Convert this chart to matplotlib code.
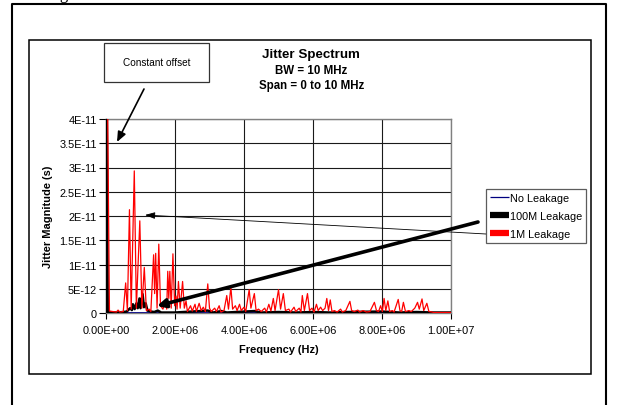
import matplotlib
matplotlib.use("Agg")
import matplotlib.pyplot as plt
from matplotlib.lines import Line2D
from matplotlib.patches import Rectangle

plt.rcParams['font.family'] = ['Liberation Sans', 'DejaVu Sans']

# ---------------- data ----------------
# frequency in MHz, magnitude in ps (1e-12 s)
red_f = [0.0, 0.1, 0.2, 0.3, 0.35, 0.4, 0.5, 0.57, 0.62, 0.68, 0.73, 0.82, 0.88, 0.98, 1.04,
         1.11, 1.17, 1.25, 1.30, 1.38, 1.41, 1.44, 1.48, 1.53, 1.58, 1.65, 1.72, 1.76, 1.79, 1.82,
         1.85, 1.89, 1.94, 1.99, 2.03, 2.06, 2.10, 2.15, 2.22, 2.27, 2.32, 2.36, 2.45, 2.50, 2.58,
         2.62, 2.70, 2.76, 2.82, 2.88, 2.95, 3.00, 3.05, 3.15, 3.20, 3.28, 3.33, 3.42, 3.50, 3.55,
         3.62, 3.67, 3.75, 3.80, 3.87, 3.92, 4.00, 4.05, 4.15, 4.20, 4.30, 4.35, 4.42, 4.50, 4.60,
         4.65, 4.72, 4.78, 4.85, 4.90, 5.00, 5.06, 5.14, 5.20, 5.30, 5.35, 5.45, 5.50, 5.60, 5.65,
         5.69, 5.75, 5.84, 5.90, 5.97, 6.03, 6.10, 6.15, 6.22, 6.28, 6.35, 6.40, 6.45, 6.50, 6.55,
         6.62, 6.70, 6.80, 6.85, 6.95, 7.07, 7.12, 7.20, 7.30, 7.35, 7.45, 7.55, 7.65, 7.78, 7.84,
         7.90, 7.96, 8.01, 8.06, 8.11, 8.17, 8.22, 8.30, 8.35, 8.47, 8.52, 8.57, 8.62, 8.68, 8.78,
         8.85, 8.95, 9.03, 9.08, 9.16, 9.21, 9.30, 9.36, 9.45, 9.50, 10.0]
red_v = [80.0, 0.4, 0.3, 0.2, 0.6, 0.2, 0.3, 6.2, 0.5, 21.3, 0.8, 29.3, 1.0, 19.0, 1.0,
         9.4, 0.5, 0.8, 0.3, 12.0, 4.0, 12.3, 1.0, 14.2, 1.5, 0.8, 2.5, 0.8, 8.6, 3.0,
         8.6, 1.0, 12.2, 1.5, 3.5, 0.8, 6.5, 1.0, 6.5, 1.0, 2.5, 0.3, 1.5, 0.4, 1.8,
         0.3, 2.0, 0.5, 1.2, 0.3, 6.0, 1.0, 0.3, 1.0, 0.3, 1.5, 0.2, 0.5, 3.6, 0.8,
         5.3, 0.8, 1.5, 0.5, 1.8, 0.5, 1.2, 0.3, 4.8, 1.0, 4.0, 0.5, 0.8, 0.3, 1.0,
         0.2, 1.8, 0.4, 3.0, 0.5, 4.8, 0.8, 4.0, 0.5, 0.8, 0.2, 1.2, 0.3, 1.0, 0.2,
         3.6, 0.5, 4.0, 0.5, 1.0, 0.2, 1.8, 0.5, 1.2, 0.5, 1.0, 3.0, 0.5, 2.7, 0.3,
         0.5, 0.2, 0.8, 0.2, 0.5, 2.4, 0.5, 0.3, 0.6, 0.2, 0.5, 0.2, 0.3, 2.2, 0.5,
         0.3, 1.5, 0.3, 3.0, 0.5, 2.5, 0.3, 0.5, 0.2, 2.8, 0.5, 0.3, 2.2, 0.3, 0.5,
         0.3, 1.0, 2.2, 0.8, 2.9, 0.5, 2.0, 0.3, 0.2, 0.1, 0.1]

black_f = [0.0, 0.05, 0.3, 0.5, 0.6, 0.7, 0.75, 0.78, 0.83, 0.88, 0.92, 0.97, 1.0, 1.06, 1.1,
           1.15, 1.2, 1.3, 1.4, 1.5, 1.6, 2.0, 2.5, 2.95, 3.1, 3.35, 3.5, 4.3, 4.5, 5.0,
           5.5, 6.0, 6.5, 7.0, 8.0, 8.5, 9.0, 9.5, 10.0]
black_v = [80.0, 0.2, 0.1, 0.2, 0.3, 1.0, 0.6, 1.8, 0.8, 2.0, 1.0, 3.0, 1.0, 3.9, 1.2,
           2.0, 0.5, 0.3, 0.2, 0.5, 0.1, 0.1, 0.3, 0.5, 0.1, 0.4, 0.1, 0.4, 0.1, 0.2,
           0.1, 0.2, 0.1, 0.2, 0.3, 0.1, 0.2, 0.1, 0.1]

blue_f = [0.0, 0.05, 10.0]
blue_v = [80.0, 0.05, 0.05]

y_ticks = [0, 5e-12, 1e-11, 1.5e-11, 2e-11, 2.5e-11, 3e-11, 3.5e-11, 4e-11]
y_labels = ["0", "5E-12", "1E-11", "1.5E-11", "2E-11", "2.5E-11", "3E-11", "3.5E-11", "4E-11"]
x_ticks = [0, 2e6, 4e6, 6e6, 8e6, 1e7]
x_labels = ["0.00E+00", "2.00E+06", "4.00E+06", "6.00E+06", "8.00E+06", "1.00E+07"]

# ---------------- figure ----------------
W, H = 618, 406
fig = plt.figure(figsize=(W / 100, H / 100), dpi=100)
fig.patch.set_facecolor('white')

def fx(x):
    return x / W

def fy(y):
    return 1 - y / H

ax = fig.add_axes([fx(106), fy(314), fx(451) - fx(106), fy(120) - fy(314)])

ax.plot([f * 1e6 for f in blue_f], [v * 1e-12 for v in blue_v], color='#000080', lw=0.9,
        label='No Leakage', zorder=3)
ax.plot([f * 1e6 for f in black_f], [v * 1e-12 for v in black_v], color='black', lw=1.8,
        label='100M Leakage', zorder=4)
ax.plot([f * 1e6 for f in red_f], [v * 1e-12 for v in red_v], color='#ff0000', lw=0.9,
        label='1M Leakage', zorder=5)

ax.set_xlim(0, 1e7)
ax.set_ylim(0, 4e-11)
ax.set_xticks(x_ticks)
ax.set_xticklabels(x_labels, fontsize=7.9)
ax.set_yticks(y_ticks)
ax.set_yticklabels(y_labels, fontsize=7.9)
ax.tick_params(axis='x', direction='out', length=4, width=0.8, pad=5, colors='black')
ax.tick_params(axis='y', direction='out', length=5, width=0.8, pad=1.5, colors='black')
ax.grid(True, color='#1a1a1a', lw=0.8)
ax.set_axisbelow(True)
for s in ['top', 'right', 'bottom']:
    ax.spines[s].set_color('#808080')
    ax.spines[s].set_linewidth(1.0)
ax.spines['left'].set_color('black')
ax.spines['left'].set_linewidth(1.0)

ax.set_xlabel('Frequency (Hz)', fontsize=7.9, fontweight='bold', labelpad=6)
ax.set_ylabel('Jitter Magnitude (s)', fontsize=7.9, fontweight='bold', va='center')
ax.yaxis.set_label_coords((48 - 106) / 345, 0.5)

# legend
handles = [Line2D([], [], color='#000080', lw=0.9, solid_capstyle='butt'),
           Line2D([], [], color='black', lw=4.5, solid_capstyle='butt'),
           Line2D([], [], color='#ff0000', lw=4.5, solid_capstyle='butt')]
leg = fig.legend(handles, ['No Leakage', '100M Leakage', '1M Leakage'],
                 loc='upper left', bbox_to_anchor=(fx(486), fy(190)),
                 fontsize=7.8, frameon=True, fancybox=False, handlelength=1.75,
                 handletextpad=0.12, borderpad=0.35, labelspacing=0.75, borderaxespad=0)
leg.get_frame().set_edgecolor('#333333')
leg.get_frame().set_linewidth(0.9)

# titles
fig.text(fx(311), fy(55), 'Jitter Spectrum', ha='center', va='center', fontsize=9.6, fontweight='bold')
fig.text(fx(311), fy(71.5), 'BW = 10 MHz', ha='center', va='center', fontsize=8.3, fontweight='bold')
fig.text(fx(311.5), fy(86), 'Span = 0 to 10 MHz', ha='center', va='center', fontsize=8.3, fontweight='bold')

# constant offset box
fig.add_artist(Rectangle((fx(104), fy(83)), fx(209) - fx(104), fy(44) - fy(83),
                         transform=fig.transFigure, fill=False, edgecolor='#333333', lw=0.9))
fig.text(fx(156.5), fy(63), 'Constant offset', ha='center', va='center', fontsize=7.2)

# arrows (figure pixel coordinates)
def arrow(x0, y0, x1, y1, lw, hl, hw):
    ax.annotate('', xy=(x1, H - y1), xycoords='figure pixels',
                xytext=(x0, H - y0), textcoords='figure pixels',
                arrowprops=dict(arrowstyle=f'-|>,head_length={hl},head_width={hw}',
                                color='black', lw=lw, shrinkA=0, shrinkB=0),
                annotation_clip=False, zorder=10)

arrow(144, 90, 117, 143, 1.2, 0.6, 0.25)
arrow(486, 235, 145, 216, 0.6, 0.6, 0.2)
arrow(478, 223, 157, 307, 2.6, 0.5, 0.25)

# frames
fig.add_artist(Rectangle((fx(29), fy(375)), fx(591) - fx(29), fy(41) - fy(375),
                         transform=fig.transFigure, fill=False, edgecolor='black', lw=1.1))
fig.add_artist(Line2D([fx(12), fx(12), fx(606), fx(606)], [0, fy(5), fy(5), 0],
                      transform=fig.transFigure, color='black', lw=1.5))

# cut-off text above the frame (as in the reference)
fig.text(fx(47), fy(-1), 'Figure', ha='left', va='baseline', fontsize=12,
         family=['Liberation Serif', 'DejaVu Serif'])

fig.savefig('out.png', dpi=100)
